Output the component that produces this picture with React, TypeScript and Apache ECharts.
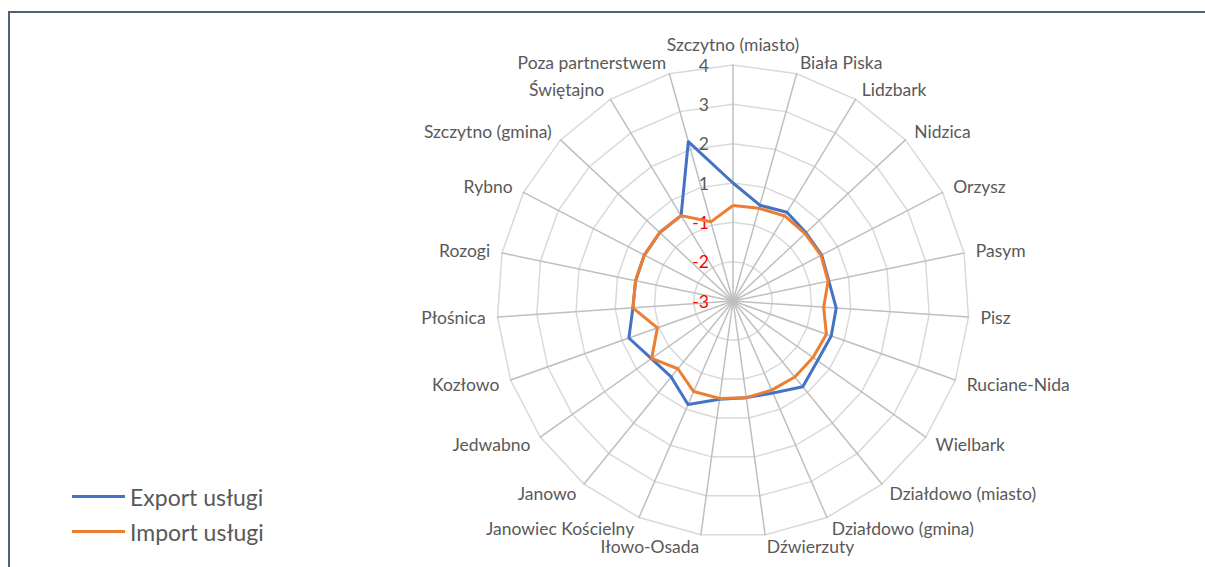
import React, { useEffect, useRef } from "react";
import * as echarts from "echarts";

const categories = [
  "Szczytno (miasto)", "Biała Piska", "Lidzbark", "Nidzica", "Orzysz", "Pasym", "Pisz",
  "Ruciane-Nida", "Wielbark", "Działdowo (miasto)", "Działdowo (gmina)", "Dźwierzuty",
  "Iłowo-Osada", "Janowiec Kościelny", "Janowo", "Jedwabno", "Kozłowo", "Płośnica",
  "Rozogi", "Rybno", "Szczytno (gmina)", "Świętajno", "Poza partnerstwem",
];

// values on the axis scale (-3 .. 3); the axis shows 0 as "1", 1 as "2", ...
const exportUslugi = [
  0, -0.47, -0.36, -0.46, -0.46, -0.51, -0.37, -0.35, -0.37, -0.19, -0.45, -0.52,
  -0.48, -0.13, -0.51, -0.46, -0.19, -0.45, -0.47, -0.46, -0.45, -0.46, 1.21,
];
const importUslugi = [
  -0.57, -0.55, -0.47, -0.49, -0.48, -0.53, -0.69, -0.48, -0.51, -0.51, -0.53, -0.52,
  -0.5, -0.49, -0.78, -0.47, -0.96, -0.45, -0.47, -0.46, -0.45, -0.46, -0.91,
];

const axisMin = -3;
const axisMax = 3;
const axisSplits = 6;

const seriesNames = ["Export usługi", "Import usługi"];
const seriesColors = ["#4472C4", "#ED7D31"];

const FONT = "Lato, 'Liberation Sans', sans-serif";

// ECharts radar runs counter-clockwise; reorder so the categories go clockwise.
const order = [0, ...categories.slice(1).map((_, i) => categories.length - 1 - i)];

export default function App() {
  const ref = useRef<HTMLDivElement>(null);
  useEffect(() => {
    if (!ref.current) return;
    const chart = echarts.init(ref.current, undefined, { renderer: "svg" });
    const indicator = order.map((idx, k) => {
      const ind: any = { name: categories[idx], min: axisMin, max: axisMax };
      if (k === 0) ind.axisLabel = { show: true };
      return ind;
    });
    chart.setOption({
      animation: false,
      backgroundColor: "#ffffff",
      legend: {
        orient: "vertical",
        left: 62,
        top: 472,
        padding: 0,
        itemWidth: 53,
        itemHeight: 3,
        itemGap: 12,
        icon: "rect",
        textStyle: { fontFamily: FONT, fontSize: 23, color: "#595959" },
        data: seriesNames,
      },
      radar: {
        center: [723, 288],
        radius: 236,
        startAngle: 90,
        shape: "polygon",
        splitNumber: axisSplits,
        nameGap: 12,
        axisName: { color: "#595959", fontFamily: FONT, fontSize: 17.5 },
        axisLine: { lineStyle: { color: "#BFBFBF", width: 1.5 } },
        splitLine: { lineStyle: { color: "#D9D9D9", width: 1.5 } },
        splitArea: { show: false },
        axisTick: { show: false },
        axisLabel: {
          show: false,
          fontFamily: FONT,
          fontSize: 17.5,
          margin: 24,
          formatter: (v: any) => {
            const n = Number(v);
            return String(n >= 0 ? n + 1 : n);
          },
          color: (v: any) => (Number(v) < 0 ? "#FF0000" : "#595959"),
        },
        indicator,
      },
      series: [
        {
          type: "radar",
          symbol: "none",
          data: [
            {
              name: seriesNames[0],
              value: order.map((i) => exportUslugi[i]),
              lineStyle: { color: seriesColors[0], width: 3 },
              itemStyle: { color: seriesColors[0] },
            },
            {
              name: seriesNames[1],
              value: order.map((i) => importUslugi[i]),
              lineStyle: { color: seriesColors[1], width: 3 },
              itemStyle: { color: seriesColors[1] },
            },
          ],
        },
      ],
    });
    return () => chart.dispose();
  }, []);
  return (
    <div
      style={{
        position: "fixed",
        left: 8,
        top: 11,
        width: 1197,
        height: 556,
        borderTop: "2px solid #536072",
        borderLeft: "2px solid #536072",
        boxSizing: "border-box",
        background: "#fff",
      }}
    >
      <div ref={ref} style={{ width: 1195, height: 554 }} />
    </div>
  );
}
